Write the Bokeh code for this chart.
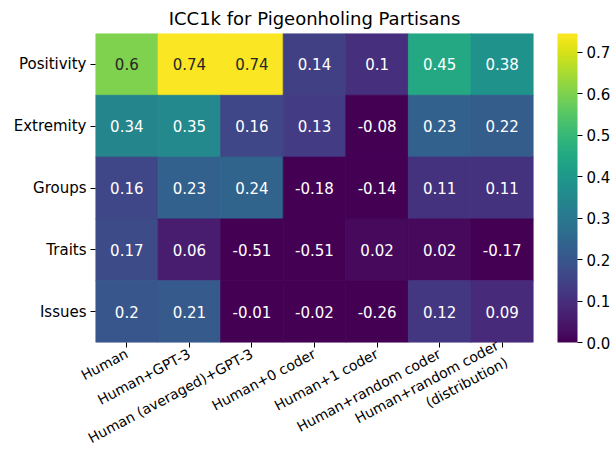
import math
from bokeh.plotting import figure
from bokeh.models import (ColumnDataSource, LinearColorMapper, ColorBar, FixedTicker,
                          Range1d, PrintfTickFormatter)
from bokeh.palettes import Viridis256
from bokeh.transform import transform
from bokeh.core.properties import value
from bokeh.embed import file_html
from bokeh.resources import INLINE

columns = ["Human", "Human+GPT-3", "Human (averaged)+GPT-3", "Human+0 coder",
           "Human+1 coder", "Human+random coder", "Human+random coder\n(distribution)"]
rows = ["Positivity", "Extremity", "Groups", "Traits", "Issues"]

positivity = [0.6, 0.74, 0.74, 0.14, 0.1, 0.45, 0.38]
extremity = [0.34, 0.35, 0.16, 0.13, -0.08, 0.23, 0.22]
groups = [0.16, 0.23, 0.24, -0.18, -0.14, 0.11, 0.11]
traits = [0.17, 0.06, -0.51, -0.51, 0.02, 0.02, -0.17]
issues = [0.2, 0.21, -0.01, -0.02, -0.26, 0.12, 0.09]
table = [positivity, extremity, groups, traits, issues]

vmin, vmax = 0.0, 0.745
cbar_ticks = [0.0, 0.1, 0.2, 0.3, 0.4, 0.5, 0.6, 0.7]

def lum(hexcol):
    r, g, b = (int(hexcol[i:i + 2], 16) / 255 for i in (1, 3, 5))
    def c(u):
        return u / 12.92 if u <= 0.03928 else ((u + 0.055) / 1.055) ** 2.4
    return 0.2126 * c(r) + 0.7152 * c(g) + 0.0722 * c(b)

xs, ys, vals, labels, tcols = [], [], [], [], []
for i, row in enumerate(table):
    for j, v in enumerate(row):
        xs.append(j + 0.5)
        ys.append(i + 0.5)
        vals.append(v)
        labels.append(f"{v:g}")
        idx = int(round(min(max((v - vmin) / (vmax - vmin), 0), 1) * 255))
        tcols.append("#262626" if lum(Viridis256[idx]) > 0.408 else "white")

src = ColumnDataSource(dict(x=xs, y=ys, v=vals, label=labels, tc=tcols))
mapper = LinearColorMapper(palette=Viridis256, low=vmin, high=vmax)

FONT = "DejaVu Sans"
TICK = "15px"
p = figure(frame_width=438, frame_height=309, output_backend="svg", toolbar_location=None,
           x_range=Range1d(0, len(columns)), y_range=Range1d(len(rows), 0),
           min_border_left=95, min_border_right=5, min_border_top=33, min_border_bottom=100,
           title="ICC1k for Pigeonholing Partisans")
p.title.align = "center"
p.title.text_font = FONT
p.title.text_font_size = "18px"
p.title.text_font_style = "normal"
p.title.text_color = "black"

p.rect(x="x", y="y", width=1, height=1, source=src,
       fill_color=transform("v", mapper), line_color=transform("v", mapper),
       line_width=0.8)
p.text(x="x", y="y", text="label", source=src, text_align="center",
       text_baseline="middle", text_font=value(FONT), text_font_size=TICK,
       text_color="tc")

p.grid.visible = False
p.outline_line_color = None
p.background_fill_color = "white"

p.xaxis.ticker = FixedTicker(ticks=[j + 0.5 for j in range(len(columns))])
p.xaxis.major_label_overrides = {j + 0.5: c for j, c in enumerate(columns)}
p.xaxis.major_label_orientation = math.radians(28)
p.yaxis.ticker = FixedTicker(ticks=[i + 0.5 for i in range(len(rows))])
p.yaxis.major_label_overrides = {i + 0.5: r for i, r in enumerate(rows)}
for ax in (p.xaxis, p.yaxis):
    ax.axis_line_color = None
    ax.minor_tick_line_color = None
    ax.major_tick_out = 5
    ax.major_tick_in = 0
    ax.major_tick_line_color = "black"
    ax.major_label_text_font = FONT
    ax.major_label_text_font_size = TICK
    ax.major_label_text_color = "black"
    ax.major_label_standoff = 4
p.xaxis.major_label_standoff = 5
p.xaxis.major_label_text_font_size = "14px"

cb = ColorBar(color_mapper=mapper, width=20, height=309, location=(24, 0),
              ticker=FixedTicker(ticks=cbar_ticks),
              formatter=PrintfTickFormatter(format="%.1f"),
              major_label_text_font=FONT, major_label_text_font_size=TICK,
              major_label_text_color="black", major_tick_out=5, major_tick_in=0,
              major_tick_line_color="black", bar_line_color=None,
              border_line_color=None, background_fill_alpha=0,
              padding=0, margin=0, label_standoff=4)
p.add_layout(cb, "right")

open("out.html", "w").write(file_html(p, INLINE))
